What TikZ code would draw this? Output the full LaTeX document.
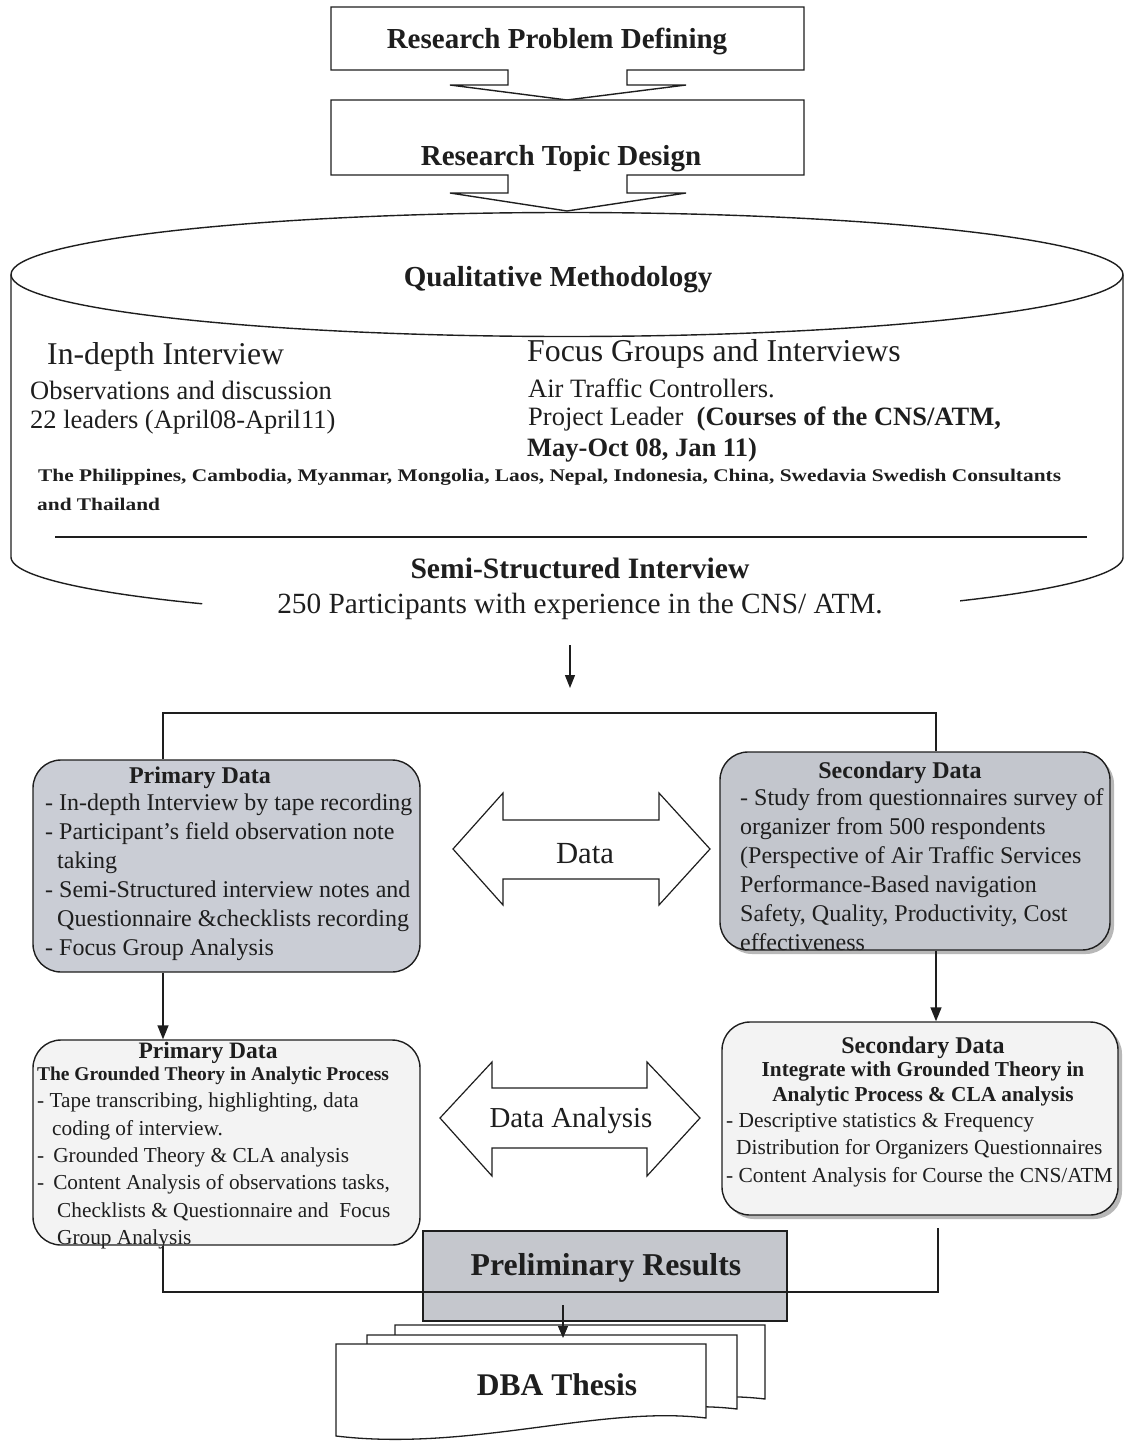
\documentclass[tikz,border=0pt]{standalone}
\usepackage{fontspec}
\setmainfont{Liberation Serif}
\usepackage{graphicx}
\usetikzlibrary{arrows.meta,calc,shadows}

\definecolor{ink}{HTML}{1E1E1E}
\definecolor{boxgray}{HTML}{CACDD5}
\definecolor{boxgrayb}{HTML}{C3C6CD}
\definecolor{palebox}{HTML}{F3F3F3}
\definecolor{resgray}{HTML}{C5C7CD}

\begin{document}
\begin{tikzpicture}[x=1pt,y=-1pt,
  frame/.style={draw=ink, line width=1.4pt},
  link/.style={draw=ink, line width=1.4pt},
  flow/.style={link, -{Triangle[length=14pt,width=11pt]}},
  txt/.style={inner sep=0pt, text=ink, yshift=-3pt},
  roundbox/.style={frame, rounded corners=28pt, inner sep=0pt},
  boxshadow/.style={drop shadow={shadow xshift=4pt, shadow yshift=-4pt, fill=gray!70, opacity=0.8}},
  bigbold/.style={txt, font=\bfseries\fontsize{29}{34}\selectfont},
  listtext/.style={txt, anchor=north west, align=left},
]
\useasboundingbox (0,0) rectangle (1125,1442);

% ---------- first two stages with their down arrows ----------
\draw[frame, fill=white] (331,7) -- (804,7) -- (804,70) -- (627,70) -- (627,85) -- (686,85)
  -- (567,100) -- (450,85) -- (508,85) -- (508,70) -- (331,70) -- cycle;
\node[bigbold] (rpd) at (557,38) {Research Problem Defining};

\draw[frame, fill=white] (331,100) -- (804,100) -- (804,175) -- (627,175) -- (627,193) -- (686,193)
  -- (567,211) -- (450,193) -- (508,193) -- (508,175) -- (331,175) -- cycle;
\node[bigbold] (rtd) at (561,156) {Research Topic Design};

% ---------- methodology cylinder ----------
\draw[frame] (567,274.5) ellipse [x radius=556, y radius=62];
\draw[frame] (11,274.5) -- (11,557) -- plot[domain=180:131, samples=40] ({567+556*cos(\x)},{557+62*sin(\x)});
\draw[frame] (1123,274.5) -- (1123,557) -- plot[domain=0:45, samples=40] ({567+556*cos(\x)},{557+62*sin(\x)});
\node[bigbold] (qm) at (558,277) {Qualitative Methodology};

\node[txt, anchor=west, font=\fontsize{31.7}{36}\selectfont] (idi) at (47,354) {In-depth Interview};
\node[txt, anchor=west, font=\fontsize{26.5}{30}\selectfont] (obs) at (30,387) {Observations and discussion};
\node[txt, anchor=west, font=\fontsize{26.5}{30}\selectfont] (lead) at (30,419) {22 leaders (April08-April11)};

\node[txt, anchor=west, font=\fontsize{31.8}{36}\selectfont] (fgi) at (527,351) {Focus Groups and Interviews};
\node[txt, anchor=west, font=\fontsize{26.5}{30}\selectfont] (atc) at (528,385) {Air Traffic Controllers.};
\node[txt, anchor=west, font=\fontsize{26.5}{30}\selectfont] (pl) at (528,416) {Project Leader\ \ \textbf{(Courses of the CNS/ATM,}};
\node[txt, anchor=west, font=\bfseries\fontsize{26.5}{30}\selectfont] (may) at (527,447) {May-Oct 08, Jan 11)};

\node[txt, anchor=west] (ctry) at (38,474) {\scalebox{1.2}[1]{\bfseries\fontsize{17.8}{20}\selectfont The Philippines, Cambodia, Myanmar, Mongolia, Laos, Nepal, Indonesia, China, Swedavia Swedish Consultants}};
\node[txt, anchor=west] (thai) at (37,501) {\scalebox{1.2}[1]{\bfseries\fontsize{17.8}{20}\selectfont and Thailand}};

\draw[link, line width=1.2pt] (55,537) -- (1087,537);

\node[bigbold, font=\bfseries\fontsize{29.6}{34}\selectfont] (ssi) at (580,565) {Semi-Structured Interview};
\node[txt, font=\fontsize{29.3}{34}\selectfont] (part) at (580,603) {250 Participants with experience in the CNS/ ATM.};

% ---------- split into primary and secondary data ----------
\coordinate (cylout) at (570,645);
\coordinate (split) at (570,688);
\draw[flow, line width=1.2pt, -{Triangle[length=13pt,width=10pt]}] (cylout) -- (split);

\node[roundbox, fill=boxgray, minimum width=387pt, minimum height=212pt] (pd1) at (226.5,866) {};
\node[roundbox, boxshadow, fill=boxgrayb, minimum width=390pt, minimum height=198pt] (sd1) at (915,851) {};

\coordinate (bl) at (163,713);
\coordinate (br) at (936,713);
\draw[link, line width=1.2pt] (pd1.north -| bl) -- (bl) -- (br) -- (sd1.north -| br);

\node[txt, font=\bfseries\fontsize{24}{28}\selectfont] (pd1h) at (200,775) {Primary Data};
\node[listtext, font=\fontsize{24}{29}\selectfont] (pd1t) at (45,791) {%
- In-depth Interview by tape recording\\
- Participant’s field observation note\\
\hspace*{12pt}taking\\
- Semi-Structured interview notes and\\
\hspace*{12pt}Questionnaire \&checklists recording\\
- Focus Group Analysis};

\node[txt, font=\bfseries\fontsize{24}{28}\selectfont] (sd1h) at (900,770) {Secondary Data};
\node[listtext, font=\fontsize{24}{29}\selectfont] (sd1t) at (740,785) {%
- Study from questionnaires survey of\\
organizer from 500 respondents\\
(Perspective of Air Traffic Services\\
Performance-Based navigation\\
Safety, Quality, Productivity, Cost\\
effectiveness};

% Data exchange arrow
\draw[frame, line width=1.2pt, fill=white] (453,849) -- (503,793) -- (503,820) -- (659,820) -- (659,793)
  -- (710,849) -- (659,905) -- (659,879) -- (503,879) -- (503,905) -- cycle;
\node[txt, font=\fontsize{30.7}{34}\selectfont] (dat) at (585,851) {Data};

% ---------- analysis stage ----------
\node[roundbox, fill=palebox, minimum width=387pt, minimum height=205pt] (pd2) at (226.5,1142.5) {};
\node[roundbox, boxshadow, fill=palebox, minimum width=396pt, minimum height=193pt] (sd2) at (920,1118.5) {};

\draw[flow] (pd1.south -| bl) -- (pd2.north -| bl);
\draw[flow] (sd1.south -| br) -- (sd2.north -| br);

\node[txt, font=\bfseries\fontsize{23.5}{27}\selectfont] (pd2h) at (208,1050) {Primary Data};
\node[txt, font=\bfseries\fontsize{19.5}{23}\selectfont] (pd2s) at (213,1073) {The Grounded Theory in Analytic Process};
\node[listtext, font=\fontsize{21.3}{27.3}\selectfont] (pd2t) at (37,1090) {%
- Tape transcribing, highlighting, data\\
\hspace*{15pt}coding of interview.\\
-\hspace*{9pt}Grounded Theory \& CLA analysis\\
-\hspace*{9pt}Content Analysis of observations tasks,\\
\hspace*{20pt}Checklists \& Questionnaire and\ \ Focus\\
\hspace*{20pt}Group Analysis};

\node[txt, font=\bfseries\fontsize{24}{28}\selectfont] (sd2h) at (923,1045) {Secondary Data};
\node[txt, font=\bfseries\fontsize{21.3}{25}\selectfont] (sd2s) at (923,1068) {Integrate with Grounded Theory in};
\node[txt, font=\bfseries\fontsize{21.3}{25}\selectfont] (sd2u) at (923,1093) {Analytic Process \& CLA analysis};
\node[listtext, font=\fontsize{21.4}{27.5}\selectfont] (sd2t) at (726,1110) {%
- Descriptive statistics \& Frequency\\
\hspace*{10pt}Distribution for Organizers Questionnaires\\
- Content Analysis for Course the CNS/ATM};

% Data analysis exchange arrow
\draw[frame, line width=1.2pt, fill=white] (440,1118) -- (492,1062) -- (492,1088) -- (647,1088) -- (647,1062)
  -- (700,1118) -- (647,1176) -- (647,1148) -- (492,1148) -- (492,1176) -- cycle;
\node[txt, font=\fontsize{28.9}{33}\selectfont] (dan) at (571,1118) {Data Analysis};

% ---------- results ----------
\node[frame, line width=1.2pt, fill=resgray, minimum width=364pt, minimum height=90pt, inner sep=0pt] (res) at (605,1276) {};
\node[txt, font=\bfseries\fontsize{31.8}{36}\selectfont] (resl) at (606,1265) {Preliminary Results};

\coordinate (ml) at (163,1292);
\coordinate (mr) at (938,1292);
\coordinate (mrtop) at (938,1228);
\draw[link, line width=1.2pt] (pd2.south -| ml) -- (ml) -- (mr) -- (mrtop);

% stacked thesis pages
\foreach \dx/\dy in {59/-19, 31/-9, 0/0}{
  \begin{scope}[shift={(\dx,\dy)}]
    \draw[frame, line width=1.3pt, fill=white] (336,1344) -- (706,1344) -- (706,1418)
      .. controls (600,1405) and (470,1452) .. (336,1436) -- cycle;
  \end{scope}
}
\node[txt, font=\bfseries\fontsize{31.5}{36}\selectfont] (thesis) at (557,1382) {DBA Thesis};

\coordinate (resout) at (563,1305);
\coordinate (thesisin) at (563,1338);
\draw[flow, line width=1.2pt, -{Triangle[length=12pt,width=10pt]}] (resout) -- (thesisin);

\end{tikzpicture}
\end{document}
